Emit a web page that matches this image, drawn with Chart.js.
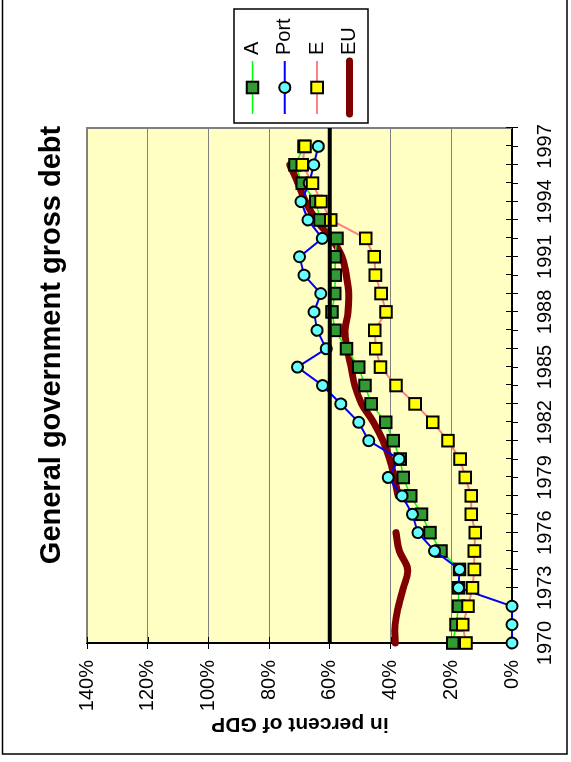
<!DOCTYPE html>
<html>
<head>
<meta charset="utf-8">
<script src="https://cdn.jsdelivr.net/npm/chart.js@4.4.1/dist/chart.umd.min.js"></script>
<style>
  html, body { margin: 0; padding: 0; background: #fff; overflow: hidden; }
  /* chart is drawn landscape, then turned a quarter turn to the left */
  #wrap {
    position: absolute; left: 0; top: 0; width: 762px; height: 571px;
    transform-origin: 0 0; transform: translate(0, 762px) rotate(-90deg);
  }
</style>
</head>
<body>
<div id="wrap"><canvas id="debt_chart" width="762" height="571"></canvas></div>
<script>
let chartTitle = "General government gross debt";
let axisTitle = "in percent of GDP";

let years = [
  1970, 1971, 1972, 1973, 1974, 1975, 1976, 1977, 1978, 1979,
  1980, 1981, 1982, 1983, 1984, 1985, 1986, 1987, 1988, 1989,
  1990, 1991, 1992, 1993, 1994, 1995, 1996, 1997,
];
let yearTicks = [1970, 1973, 1976, 1979, 1982, 1985, 1988, 1991, 1994, 1997];

let debtA = [
  19.5, 18.4, 17.6, 17.6, 17.3, 23.4, 27.0, 29.8, 33.4, 35.8,
  36.8, 39.1, 41.6, 46.4, 48.4, 50.5, 54.5, 58.3, 59.3, 58.4,
  58.2, 58.3, 57.7, 63.2, 64.6, 69.1, 71.5, 68.5,
];
let debtPort = [
  0, 0, 0, 17.6, 17.3, 25.5, 31.0, 32.8, 36.2, 40.8,
  37.2, 47.2, 50.5, 56.4, 62.4, 70.7, 61.2, 64.2, 65.2, 63.0,
  68.5, 70.0, 62.5, 67.2, 69.5, 66.8, 65.3, 63.8,
];
let debtE = [
  15.2, 16.2, 14.5, 13.0, 12.4, 12.4, 12.1, 13.4, 13.4, 15.4,
  17.1, 21.1, 26.1, 31.9, 38.2, 43.3, 44.9, 45.2, 41.5, 43.1,
  45.0, 45.4, 48.2, 59.7, 62.9, 65.7, 69.1, 68.2,
];
let debtEU = [
  38.5, 38.5, 37.4, 35.8, 34.4, 37.1, 38.2, null, 37.5, 38.8,
  40.3, 42.5, 45.6, 49.5, 51.8, 53.0, 54.3, 55.0, 54.0, 53.8,
  54.6, 56.0, 59.5, 64.5, 68.0, 70.5, 73.2, null,
];

// 60% reference line
let refYears = [1970, 1998];
let refLevel = [60, 60];

Chart.defaults.font.family = "'Liberation Sans', Arial, sans-serif";
Chart.defaults.font.size = 20;
Chart.defaults.color = "#000";

function drawMarker(ctx, style, r, x, y) {
  ctx.beginPath();
  if (style === "rect") {
    let s = r * Math.SQRT1_2;
    ctx.rect(x - s, y - s, 2 * s, 2 * s);
  } else {
    ctx.arc(x, y, r, 0, Math.PI * 2);
  }
  ctx.fill();
  ctx.stroke();
}

const framePlugin = {
  id: "framePlugin",
  beforeDraw(chart) {
    let { ctx, chartArea: a } = chart;
    ctx.save();
    ctx.fillStyle = "#FFFFC4";
    ctx.fillRect(a.left, a.top, a.right - a.left, a.bottom - a.top);
    ctx.restore();
  },
  beforeDatasetsDraw(chart) {
    let { ctx, chartArea: a, scales } = chart;
    ctx.save();
    ctx.strokeStyle = "#808080";
    ctx.lineWidth = 2;
    ctx.beginPath();
    ctx.moveTo(a.left, a.top);
    ctx.lineTo(a.right, a.top);
    ctx.lineTo(a.right, a.bottom);
    ctx.stroke();

    // inner half of the crossing tick marks
    ctx.strokeStyle = "#000";
    ctx.lineWidth = 1;
    ctx.beginPath();
    scales.x.ticks.forEach((t) => {
      let px = Math.round(scales.x.getPixelForValue(t.value)) + 0.5;
      ctx.moveTo(px, a.bottom);
      ctx.lineTo(px, a.bottom - 6);
    });
    scales.y.ticks.forEach((t) => {
      let py = Math.round(scales.y.getPixelForValue(t.value)) + 0.5;
      ctx.moveTo(a.left, py);
      ctx.lineTo(a.left + 6, py);
    });
    ctx.stroke();
    ctx.restore();
  },
  afterDraw(chart) {
    let ctx = chart.ctx;
    ctx.save();

    // title
    ctx.fillStyle = "#000";
    ctx.font = "bold 29px 'Liberation Sans', Arial";
    ctx.textAlign = "center";
    ctx.textBaseline = "alphabetic";
    ctx.fillText(chartTitle, 417, 60);

    // value axis title
    ctx.save();
    ctx.translate(44, 300);
    ctx.rotate(-Math.PI / 2);
    ctx.font = "bold 21px 'Liberation Sans', Arial";
    ctx.fillText(axisTitle, 0, 0);
    ctx.restore();

    // legend box
    ctx.fillStyle = "#fff";
    ctx.fillRect(639, 234, 114, 134);
    ctx.strokeStyle = "#000";
    ctx.lineWidth = 1.5;
    ctx.strokeRect(639, 234, 114, 134);

    let series = chart.data.datasets.filter((d) => d.label);
    series.forEach((d, i) => {
      let v = 252.5 + i * 32.3;
      ctx.strokeStyle = d.borderColor;
      ctx.lineWidth = d.borderWidth;
      ctx.lineCap = d.borderCapStyle || "butt";
      ctx.beginPath();
      ctx.moveTo(648, v);
      ctx.lineTo(701, v);
      ctx.stroke();
      ctx.lineCap = "butt";
      if (d.pointRadius) {
        ctx.fillStyle = d.pointBackgroundColor;
        ctx.strokeStyle = d.pointBorderColor;
        ctx.lineWidth = d.pointBorderWidth;
        drawMarker(ctx, d.pointStyle, d.pointRadius, 674.5, v);
      }
      ctx.fillStyle = "#000";
      ctx.font = "20px 'Liberation Sans', Arial";
      ctx.textAlign = "left";
      ctx.textBaseline = "middle";
      ctx.fillText(d.label, 707, v);
    });

    // outer frame
    ctx.strokeStyle = "#000";
    ctx.lineWidth = 1.5;
    ctx.strokeRect(8, 2.5, 800, 564.5);
    ctx.restore();
  },
};

var debtCtx = document.getElementById("debt_chart").getContext("2d");

var myChartDebt = new Chart(debtCtx, {
  type: "line",
  data: {
    labels: years,
    datasets: [
      {
        label: "A",
        data: debtA,
        borderColor: "#00FF00",
        borderWidth: 1.5,
        pointStyle: "rect",
        pointRadius: 8.2,
        pointBackgroundColor: "#339933",
        pointBorderColor: "#000",
        pointBorderWidth: 2,
        order: 3,
        clip: false,
      },
      {
        label: "Port",
        data: debtPort,
        borderColor: "#0000FF",
        borderWidth: 2,
        pointStyle: "circle",
        pointRadius: 5.5,
        pointBackgroundColor: "#66FFFF",
        pointBorderColor: "#000",
        pointBorderWidth: 2,
        order: 2,
        clip: false,
      },
      {
        label: "E",
        data: debtE,
        borderColor: "#FF8080",
        borderWidth: 2,
        pointStyle: "rect",
        pointRadius: 8.2,
        pointBackgroundColor: "#FFFF00",
        pointBorderColor: "#000",
        pointBorderWidth: 2,
        order: 1,
        clip: false,
      },
      {
        label: "EU",
        data: debtEU,
        borderColor: "#800000",
        borderWidth: 7,
        borderCapStyle: "round",
        borderJoinStyle: "round",
        pointRadius: 0,
        tension: 0.4,
        spanGaps: false,
        order: 4,
        clip: false,
      },
      {
        data: refYears.map((x, i) => ({ x: x, y: refLevel[i] })),
        borderColor: "#000",
        borderWidth: 4,
        pointRadius: 0,
        order: 0,
      },
    ],
  },
  options: {
    responsive: false,
    animation: false,
    devicePixelRatio: 1,
    layout: { padding: { left: 0, top: 87, right: 128, bottom: 0 } },
    plugins: {
      legend: { display: false },
      title: { display: false },
      tooltip: { enabled: false },
    },
    scales: {
      x: {
        type: "linear",
        min: 1970,
        max: 1998,
        afterFit: (s) => { s.height = 59; },
        ticks: {
          stepSize: 1,
          maxTicksLimit: 100,
          autoSkip: false,
          maxRotation: 0,
          padding: 15,
          callback: (v) => (yearTicks.includes(v) ? String(v) : ""),
        },
        grid: { drawOnChartArea: false, tickLength: 6, color: "#000" },
        border: { color: "#000", width: 2 },
      },
      y: {
        min: 0,
        max: 140,
        afterFit: (s) => { s.width = 119; },
        ticks: { stepSize: 20, padding: 11, callback: (v) => v + "%" },
        grid: { color: "#808080", tickColor: "#000", tickLength: 6 },
        border: { color: "#000", width: 2 },
      },
    },
  },
  plugins: [framePlugin],
});
</script>
</body>
</html>
